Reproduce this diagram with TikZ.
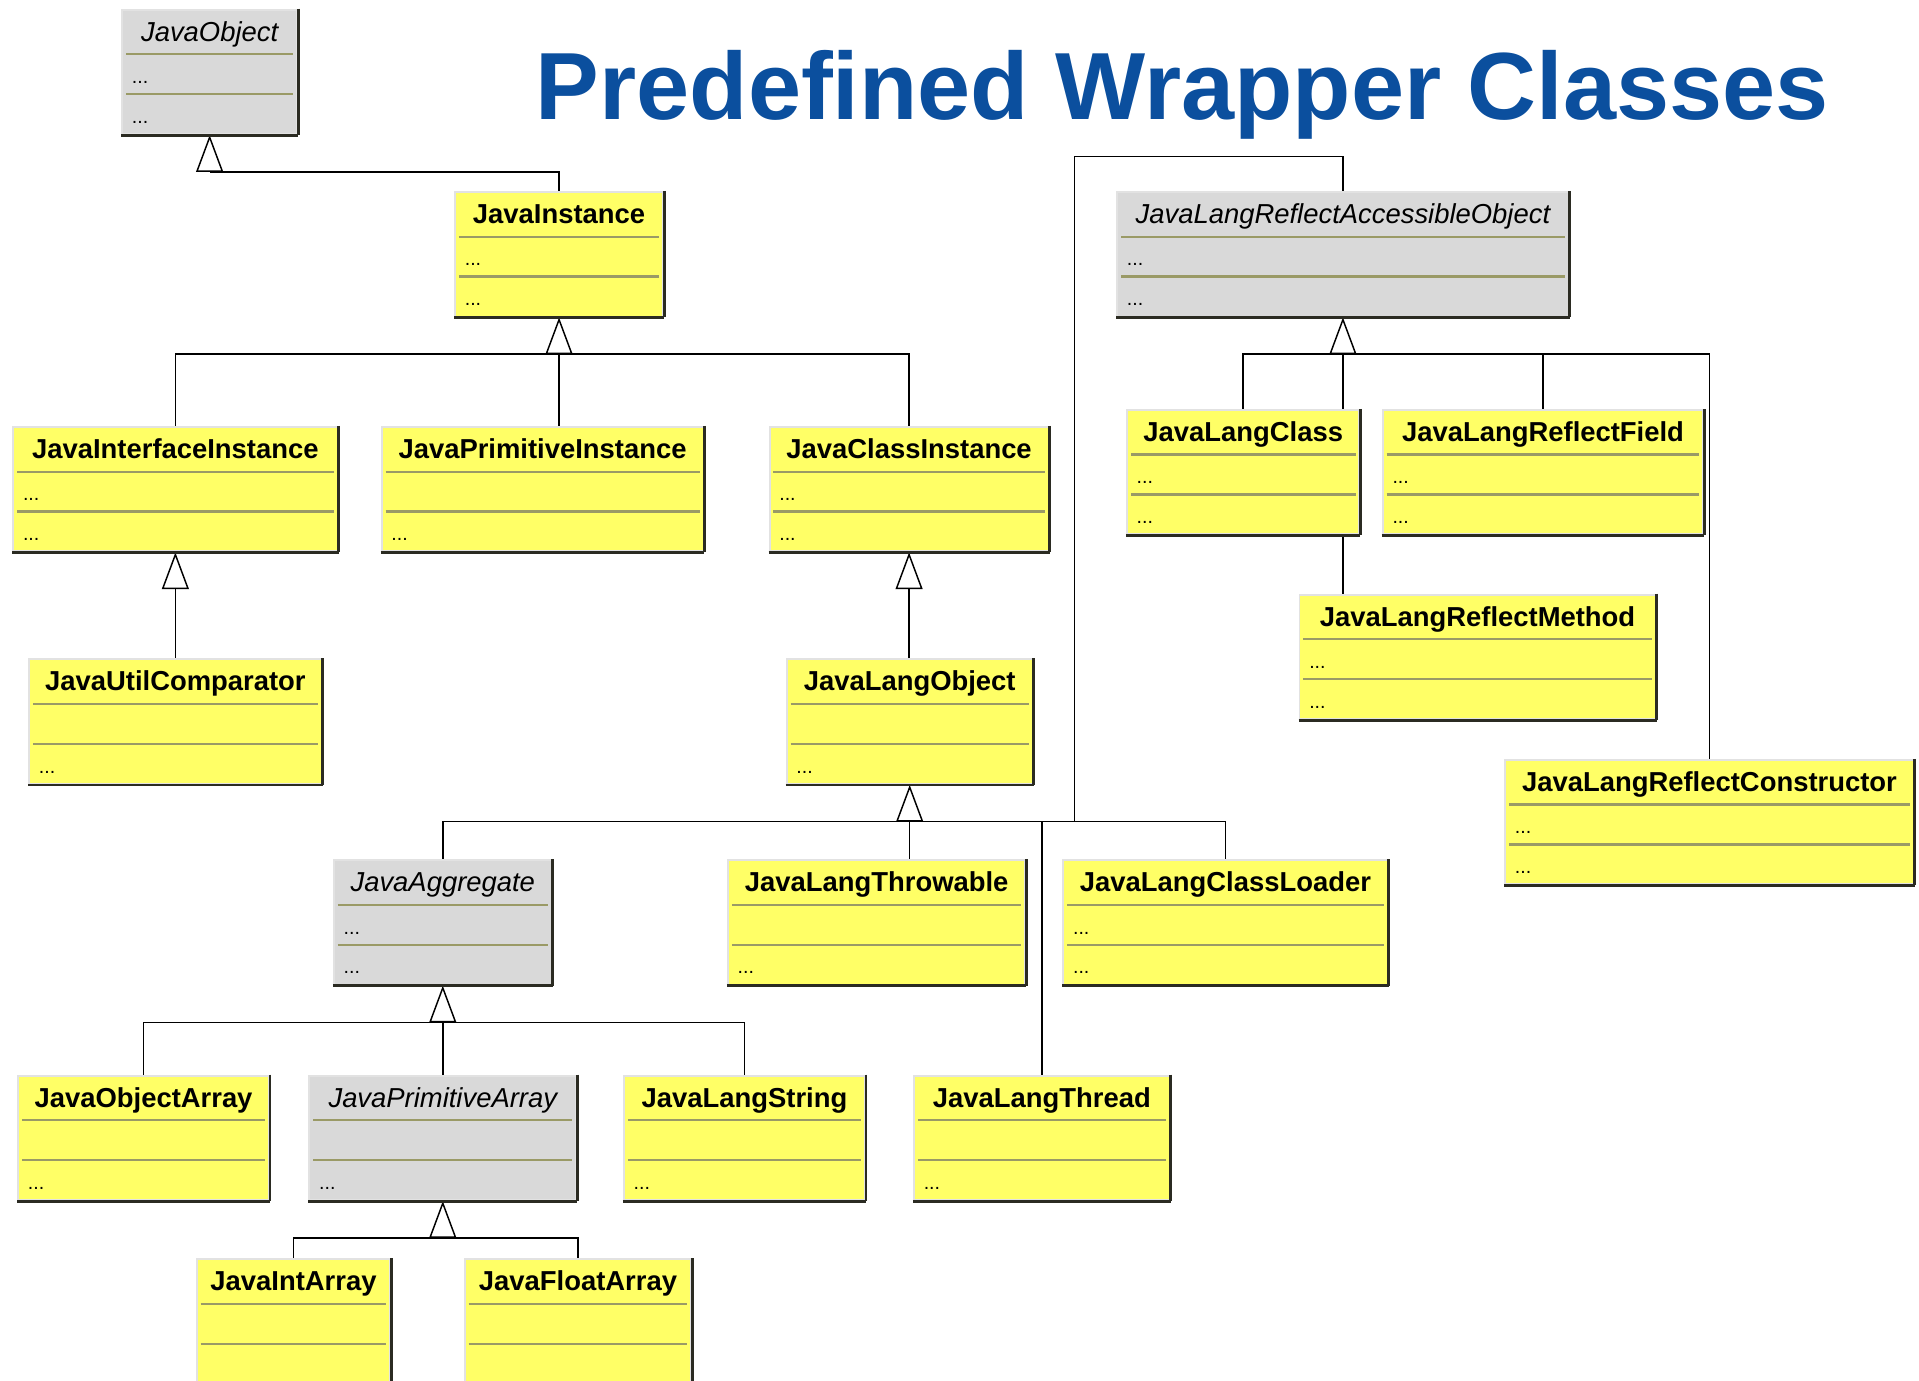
\documentclass[tikz,border=0pt]{standalone}
\usepackage{fontspec}
\setmainfont{Liberation Sans}
\usetikzlibrary{arrows.meta,shapes.multipart,backgrounds}

\definecolor{clsyellow}{HTML}{FFFF66}
\definecolor{absgray}{HTML}{D9D9D9}
\definecolor{rimgray}{HTML}{E2E2E2}
\definecolor{splitolive}{HTML}{9A9A66}
\definecolor{shadedark}{HTML}{2B2B22}
\definecolor{titleblue}{HTML}{0B4F9E}

\newcommand{\partstrut}{\rule[-4pt]{0pt}{15.5pt}}

\begin{document}
\begin{tikzpicture}[
  x=0.5pt, y=-0.5pt,
  cls/.style={rectangle split, rectangle split parts=3, rectangle split draw splits=false,
    rectangle split part align={center,left,left},
    rectangle split empty part height=11.5pt, rectangle split empty part depth=4pt,
    text height=12.5pt, text depth=5pt, inner ysep=0pt, inner xsep=4pt, anchor=north west,
    fill=clsyellow, draw=rimgray, line width=0.8pt,
    font=\bfseries\fontsize{11.2}{13}\selectfont,
    every two node part/.style={font=\mdseries\upshape\fontsize{8}{9}\selectfont\partstrut},
    every three node part/.style={font=\mdseries\upshape\fontsize{8}{9}\selectfont\partstrut},
    append after command={
      ([xshift=2pt]\tikzlastnode.text split west) edge[splitline] ([xshift=-2pt]\tikzlastnode.text split east)
      ([xshift=2pt]\tikzlastnode.two split west) edge[splitline] ([xshift=-2pt]\tikzlastnode.two split east)
      (\tikzlastnode.north east) edge[shadeline] (\tikzlastnode.south east)
      (\tikzlastnode.south west) edge[shadeline] (\tikzlastnode.south east)
    }},
  abstract/.style={cls, fill=absgray, font=\mdseries\itshape\fontsize{11.2}{13}\selectfont},
  splitline/.style={draw=splitolive, line width=0.9pt},
  shadeline/.style={draw=shadedark, line width=1.2pt},
  link/.style={draw=black, line width=0.6pt},
  inherit/.style={link, -{Triangle[length=15pt, width=11pt, fill=white]}}
]
\useasboundingbox (0,0) rectangle (1568,1128);
\clip (0,0) rectangle (1568,1128);

\node[font=\bfseries\fontsize{39}{40}\selectfont, text=titleblue, anchor=base] (title) at (966,98) {Predefined Wrapper Classes};

% left part of the hierarchy
\node[abstract, minimum width=71.5pt] (jobj) at (99,7) {JavaObject \nodepart{two}... \nodepart{three}...};
\node[cls, minimum width=85pt] (jinst) at (371,156) {JavaInstance \nodepart{two}... \nodepart{three}...};
\node[cls, minimum width=132.5pt] (jiface) at (10,348) {JavaInterfaceInstance \nodepart{two}... \nodepart{three}...};
\node[cls, minimum width=131.5pt] (jprim) at (311,348) {JavaPrimitiveInstance \nodepart{two} \nodepart{three}...};
\node[cls, minimum width=114pt] (jcinst) at (628,348) {JavaClassInstance \nodepart{two}... \nodepart{three}...};
\node[cls, minimum width=119.5pt] (jcomp) at (23,538) {JavaUtilComparator \nodepart{two} \nodepart{three}...};
\node[cls, minimum width=100.5pt] (jlobj) at (642,538) {JavaLangObject \nodepart{two} \nodepart{three}...};
\node[abstract, minimum width=89pt] (jagg) at (272,702) {JavaAggregate \nodepart{two}... \nodepart{three}...};
\node[cls, minimum width=121.5pt] (jthrow) at (594,702) {JavaLangThrowable \nodepart{two} \nodepart{three}...};
\node[cls, minimum width=132.5pt] (jcload) at (868,702) {JavaLangClassLoader \nodepart{two}... \nodepart{three}...};
\node[cls, minimum width=102.5pt] (joarr) at (14,878) {JavaObjectArray \nodepart{two} \nodepart{three}...};
\node[abstract, minimum width=109pt] (jparr) at (252,878) {JavaPrimitiveArray \nodepart{two} \nodepart{three}...};
\node[cls, minimum width=98.5pt] (jstr) at (509,878) {JavaLangString \nodepart{two} \nodepart{three}...};
\node[cls, minimum width=104.5pt] (jthread) at (746,878) {JavaLangThread \nodepart{two} \nodepart{three}...};
\node[cls, minimum width=79pt] (jiarr) at (160,1028) {JavaIntArray \nodepart{two} \nodepart{three}};
\node[cls, minimum width=92.5pt] (jfarr) at (379,1028) {JavaFloatArray \nodepart{two} \nodepart{three}};

% reflection classes
\node[abstract, minimum width=184.5pt] (jrao) at (912,156) {JavaLangReflectAccessibleObject \nodepart{two}... \nodepart{three}...};
\node[cls, minimum width=95pt] (jlclass) at (920,334) {JavaLangClass \nodepart{two}... \nodepart{three}...};
\node[cls, minimum width=131pt] (jfield) at (1129,334) {JavaLangReflectField \nodepart{two}... \nodepart{three}...};
\node[cls, minimum width=145.5pt] (jmethod) at (1061,485) {JavaLangReflectMethod \nodepart{two}... \nodepart{three}...};
\node[cls, minimum width=167pt] (jctor) at (1229,620) {JavaLangReflectConstructor \nodepart{two}... \nodepart{three}...};

\coordinate (objbar) at ([yshift=-15pt]jobj.south);
\coordinate (instbar) at ([yshift=-15pt]jinst.south);
\coordinate (lobar) at ([yshift=-15pt]jlobj.south);
\coordinate (aggbar) at ([yshift=-15pt]jagg.south);
\coordinate (parrbar) at ([yshift=-15pt]jparr.south);
\coordinate (raobar) at ([yshift=-15pt]jrao.south);
\coordinate (aoturn) at (878,128);

\begin{scope}[on background layer]
  \draw[inherit] (objbar) -- (jobj.south);
  \draw[link] (objbar) -| (jinst.north);

  \draw[inherit] (instbar) -- (jinst.south);
  \draw[link] (instbar) -| (jiface.north);
  \draw[link] (instbar) -- (instbar |- jprim.north);
  \draw[link] (instbar) -| (jcinst.north);

  \draw[inherit] (jiface.south |- jcomp.north) -- (jiface.south);
  \draw[inherit] (jcinst.south |- jlobj.north) -- (jcinst.south);

  \draw[inherit] (lobar) -- (jlobj.south);
  \draw[link] (lobar) -| (jagg.north);
  \draw[link] (lobar) -- (lobar |- jthrow.north);
  \draw[link] (lobar) -| (jthread.north);
  \draw[link] (lobar) -| (jcload.north);
  \draw[link] (lobar) -| (aoturn) -| (jrao.north);

  \draw[inherit] (aggbar) -- (jagg.south);
  \draw[link] (aggbar) -| (joarr.north);
  \draw[link] (aggbar) -- (jparr.north);
  \draw[link] (aggbar) -| (jstr.north);

  \draw[inherit] (parrbar) -- (jparr.south);
  \draw[link] (parrbar) -| (jiarr.north);
  \draw[link] (parrbar) -| (jfarr.north);

  \draw[inherit] (raobar) -- (jrao.south);
  \draw[link] (raobar) -| (jlclass.north);
  \draw[link] (raobar) -- (raobar |- jmethod.north);
  \draw[link] (raobar) -| (jfield.north);
  \draw[link] (raobar) -| (jctor.north);
\end{scope}
\end{tikzpicture}
\end{document}
